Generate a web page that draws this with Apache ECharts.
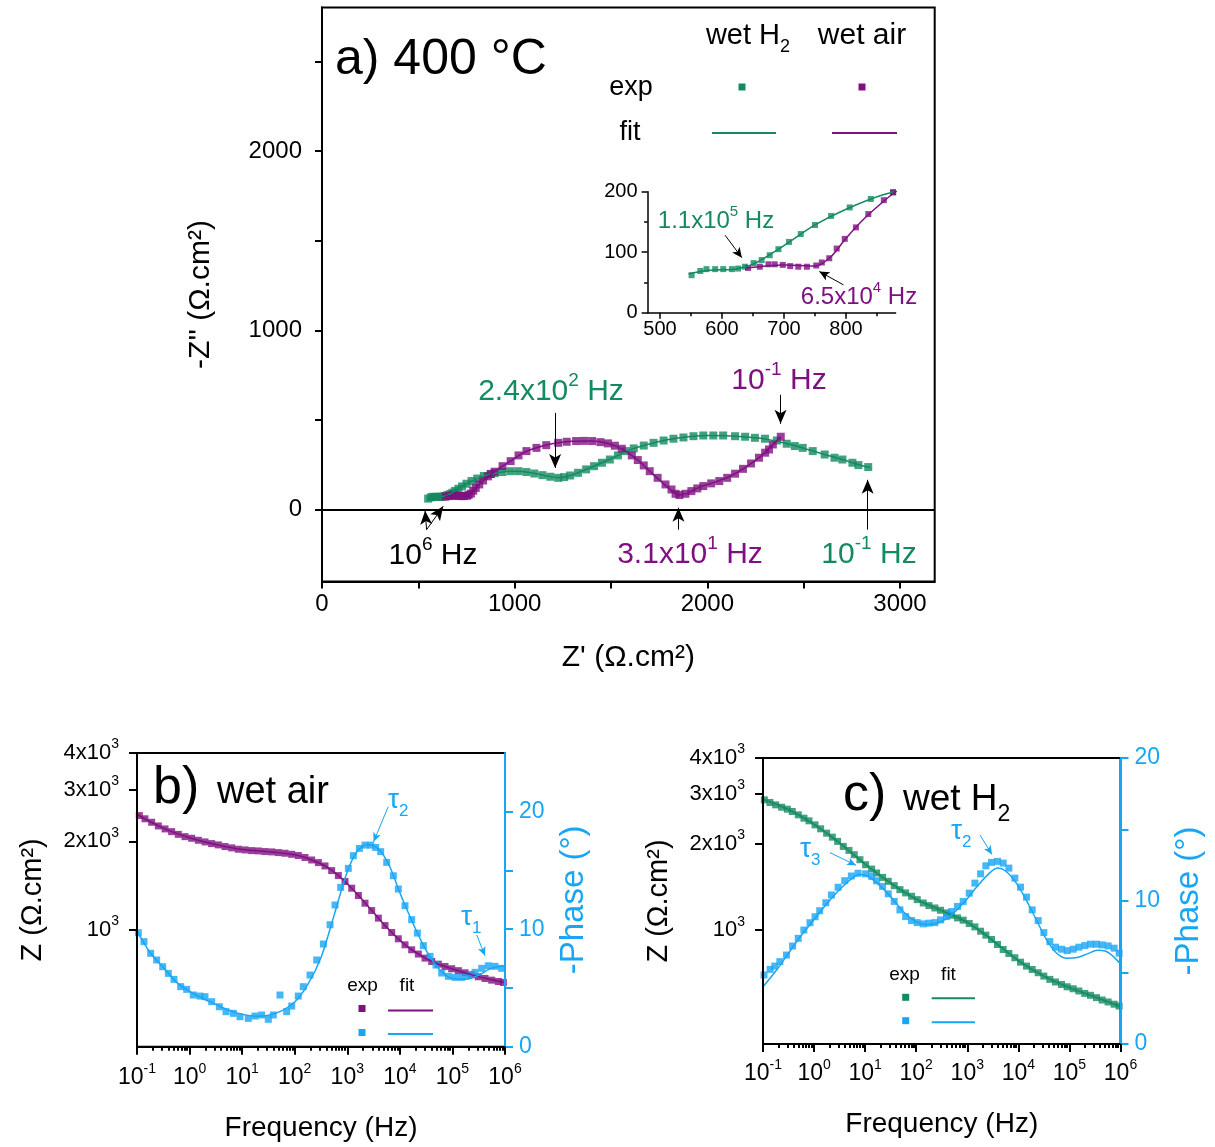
<!DOCTYPE html>
<html><head><meta charset="utf-8">
<script src="https://cdn.jsdelivr.net/npm/echarts@6/dist/echarts.min.js"></script>
<style>html,body{margin:0;padding:0;background:#fff}#c{width:1215px;height:1147px}</style>
</head><body><div id="c"></div>
<script>
const GREEN = '#138a5f';
const PURPLE = '#7f1081';
const BLUE = '#18a5f4';
const FF = "'Liberation Sans', Arial, sans-serif";

// ---------- a) Nyquist at 400 °C : [Z', -Z''] (Ω.cm²) ----------
const wetH2Exp = [[551,62],[565,69],[575,72],[589,72],[602,72],[616,72],[626,73],[637,76],[651,82],[664,87],[677,95],[691,105],[708,117],[727,130],[750,145],[776,160],[806,174],[840,188],[876,199],[896,204],[937,210],[979,215],[1020,215],[1061,210],[1102,202],[1144,193],[1185,184],[1226,178],[1257,182],[1288,191],[1329,206],[1371,225],[1412,243],[1453,262],[1494,280],[1536,303],[1577,327],[1618,342],[1670,358],[1721,373],[1773,386],[1824,396],[1876,403],[1928,410],[1979,414],[2031,414],[2082,414],[2144,410],[2196,407],[2247,401],[2299,396],[2361,386],[2412,368],[2454,355],[2495,345],[2547,327],[2609,308],[2660,290],[2701,280],[2753,262],[2784,249],[2835,238]];
const wetH2Fit = [[546,64],[580,70],[620,72],[650,80],[700,111],[750,145],[800,171],[860,195],[920,208],[980,215],[1040,213],[1100,203],[1160,190],[1215,180],[1260,183],[1320,203],[1400,238],[1500,284],[1600,335],[1700,367],[1800,392],[1900,407],[2000,414],[2100,413],[2200,406],[2300,395],[2400,372],[2500,343],[2600,311],[2700,280],[2800,247],[2845,235]];
const wetAirExp = [[642,74],[661,76],[675,80],[685,80],[698,79],[710,77],[723,76],[737,76],[752,78],[761,83],[773,90],[785,106],[798,122],[816,141],[836,163],[861,186],[876,199],[896,212],[937,243],[979,271],[1020,303],[1061,327],[1113,345],[1164,360],[1226,373],[1270,379],[1319,383],[1360,384],[1402,383],[1445,377],[1484,370],[1520,357],[1556,340],[1608,303],[1639,277],[1670,247],[1701,215],[1742,178],[1783,141],[1814,113],[1835,89],[1855,82],[1886,89],[1917,104],[1948,119],[1979,132],[2020,147],[2062,160],[2103,178],[2144,201],[2185,228],[2227,258],[2268,290],[2300,318],[2320,336],[2340,364],[2381,407]];
const wetAirFit = [[640,74],[700,79],[750,77],[775,92],[800,123],[830,156],[870,192],[920,232],[980,272],[1040,315],[1100,341],[1200,369],[1300,382],[1400,383],[1480,371],[1560,337],[1640,276],[1720,196],[1790,129],[1830,92],[1852,82],[1890,90],[1960,126],[2040,154],[2120,188],[2200,238],[2280,300],[2340,363],[2381,407]];
const nyqXTicks = [0,500,1000,1500,2000,2500,3000];
const nyqXLabels = [0,1000,2000,3000];
const nyqYTicks = [0,500,1000,1500,2000,2500];
const nyqYLabels = [0,1000,2000];
const insetXMajor = [500,600,700,800];
const insetXMinor = [550,650,750,850];
const insetYMajor = [0,100,200];
const insetYMinor = [50,150];

// ---------- b) wet air Bode : log10(f/Hz), |Z| (Ω.cm²), -phase (°) ----------
const airLogF = [-0.956,-0.848,-0.721,-0.594,-0.467,-0.341,-0.214,-0.087,0.040,0.167,0.294,0.420,0.547,0.674,0.801,0.928,1.055,1.181,1.308,1.435,1.562,1.689,1.815,1.942,2.069,2.196,2.323,2.450,2.576,2.703,2.830,2.957,3.084,3.211,3.337,3.464,3.591,3.718,3.845,3.971,4.098,4.225,4.352,4.479,4.606,4.732,4.859,4.986,5.113,5.240,5.367,5.493,5.620,5.747,5.874,5.969];
const airZExp = [2449,2388,2324,2258,2206,2159,2114,2076,2050,2018,1992,1966,1946,1921,1901,1881,1871,1861,1856,1847,1842,1832,1823,1808,1790,1763,1729,1694,1650,1591,1530,1460,1386,1309,1232,1163,1096,1034,979,932,889,855,827,801,780,764,750,737,726,714,703,692,683,674,667,662];
const airZFit = [[-1,2470],[-0.5,2220],[0,2058],[0.5,1953],[1,1878],[1.5,1845],[2,1800],[2.3,1735],[2.6,1640],[2.9,1492],[3.2,1316],[3.5,1145],[3.8,998],[4.1,889],[4.4,817],[4.7,768],[5,736],[5.3,709],[5.6,685],[6,660]];
const airPhaseExp = [[-0.975,9.70],[-0.867,8.94],[-0.74,7.95],[-0.626,7.38],[-0.511,6.81],[-0.404,6.24],[-0.296,5.73],[-0.169,5.11],[-0.055,4.88],[0.071,4.40],[0.198,4.31],[0.293,4.26],[0.421,3.83],[0.566,3.40],[0.693,2.98],[0.832,2.84],[0.959,2.55],[1.117,2.41],[1.245,2.61],[1.372,2.70],[1.498,2.33],[1.593,2.70],[1.720,4.40],[1.848,2.98],[1.943,3.46],[2.068,4.31],[2.163,5.11],[2.291,6.10],[2.418,7.38],[2.545,8.74],[2.672,10.38],[2.767,12.06],[2.874,13.56],[3.020,15.18],[3.115,16.26],[3.230,16.88],[3.337,17.16],[3.445,17.16],[3.540,16.96],[3.635,16.60],[3.750,15.69],[3.876,14.55],[3.971,13.42],[4.098,12.00],[4.225,10.81],[4.333,9.67],[4.447,8.60],[4.574,7.69],[4.688,6.95],[4.796,6.27],[4.923,5.99],[5.049,5.90],[5.176,5.90],[5.303,6.04],[5.430,6.33],[5.557,6.67],[5.684,6.89],[5.810,6.84],[5.937,6.67]];
const airPhaseFit = [[-1,9.85],[-0.75,8.0],[-0.5,6.75],[-0.25,5.5],[0,4.7],[0.25,4.1],[0.5,3.6],[0.75,3.1],[1,2.75],[1.25,2.6],[1.5,2.68],[1.75,3.05],[2,3.8],[2.25,5.3],[2.5,7.6],[2.75,11.2],[3,14.9],[3.2,16.7],[3.4,17.2],[3.6,16.8],[3.8,15.4],[4,13.1],[4.25,10.5],[4.5,8.2],[4.75,6.6],[5,5.8],[5.25,5.75],[5.5,6.1],[5.7,6.6],[5.85,6.8],[6,6.85]];

// ---------- c) wet H2 Bode ----------
const h2LogF = [-0.974,-0.863,-0.752,-0.635,-0.524,-0.426,-0.309,-0.198,-0.100,0.018,0.128,0.246,0.357,0.461,0.572,0.683,0.787,0.898,1.009,1.127,1.224,1.342,1.453,1.570,1.681,1.792,1.909,2.020,2.138,2.249,2.366,2.477,2.594,2.692,2.809,2.920,3.038,3.149,3.260,3.364,3.475,3.592,3.703,3.814,3.931,4.042,4.160,4.271,4.388,4.499,4.616,4.727,4.845,4.956,5.073,5.184,5.301,5.412,5.530,5.641,5.758,5.876,5.973];
const h2ZExp = [2855,2795,2743,2692,2649,2600,2531,2464,2412,2335,2262,2184,2115,2044,1963,1901,1836,1764,1694,1636,1585,1530,1482,1431,1386,1350,1314,1279,1245,1219,1196,1174,1149,1128,1104,1084,1055,1027,992,961,928,891,856,829,801,773,749,729,710,691,673,659,646,634,624,613,601,592,581,570,561,551,543];
const h2ZFit = [[-1,2870],[-0.5,2640],[0,2345],[0.5,2018],[1,1700],[1.5,1462],[2,1285],[2.5,1170],[3,1065],[3.5,920],[4,783],[4.5,691],[5,630],[5.5,584],[6,541]];
const h2PhaseExp = [[-0.98,4.83],[-0.86,5.22],[-0.77,5.45],[-0.67,5.76],[-0.54,6.22],[-0.42,6.85],[-0.31,7.39],[-0.20,7.97],[-0.08,8.48],[0.02,8.90],[0.11,9.32],[0.23,9.88],[0.34,10.42],[0.47,10.96],[0.60,11.42],[0.73,11.75],[0.86,11.94],[1.009,11.90],[1.127,11.72],[1.224,11.41],[1.342,11.02],[1.453,10.50],[1.570,9.97],[1.681,9.38],[1.792,8.91],[1.909,8.63],[2.020,8.49],[2.138,8.40],[2.249,8.45],[2.366,8.49],[2.477,8.68],[2.594,8.91],[2.692,9.26],[2.809,9.62],[2.920,9.97],[3.038,10.55],[3.149,11.25],[3.260,11.90],[3.364,12.46],[3.475,12.70],[3.592,12.77],[3.703,12.65],[3.814,12.30],[3.931,11.60],[4.042,10.97],[4.160,10.27],[4.271,9.38],[4.388,8.63],[4.499,7.79],[4.616,7.16],[4.727,6.77],[4.845,6.63],[4.956,6.53],[5.073,6.63],[5.184,6.77],[5.301,6.88],[5.412,6.98],[5.530,6.98],[5.641,6.93],[5.758,6.86],[5.876,6.70],[5.973,6.35]];
const h2PhaseFit = [[-1,4.0],[-0.75,5.1],[-0.5,6.35],[-0.25,7.6],[0,8.7],[0.25,9.8],[0.5,10.8],[0.75,11.6],[0.9,11.85],[1.05,11.75],[1.25,11.2],[1.5,10.3],[1.75,9.25],[2.0,8.55],[2.2,8.35],[2.45,8.5],[2.7,9.05],[2.95,9.95],[3.2,11.05],[3.45,12.0],[3.6,12.3],[3.75,12.1],[3.95,11.3],[4.15,10.1],[4.35,8.7],[4.55,7.3],[4.75,6.35],[4.95,6.0],[5.15,6.05],[5.35,6.3],[5.55,6.55],[5.7,6.5],[5.85,6.15],[6.0,5.6]];

const freqDecades = [-1,0,1,2,3,4,5,6];
const zTicks = [1000,2000,3000,4000];
const zTickMant = ['','2x','3x','4x'];
const phaseTicksB = [0,5,10,15,20];
const phaseTicksC = [0,5,10,15,20];
const phaseLabels = [0,10,20];

// ---------- helpers ----------
const lg = Math.log10;
const minorFreq = [];
freqDecades.slice(0, -1).forEach(d => { for (let k = 2; k <= 9; k++) minorFreq.push(d + lg(k)); });
const zTicksLog = zTicks.map(lg);

function supRich(size, color) {
  return {
    n: {fontSize: size, fontFamily: FF, color: color, lineHeight: Math.round(size * 1.4)},
    s: {fontSize: Math.round(size * 0.62), fontFamily: FF, color: color, lineHeight: Math.round(size * 0.62), verticalAlign: 'top'},
    u: {fontSize: Math.round(size * 0.62), fontFamily: FF, color: color, lineHeight: Math.round(size * 0.62), verticalAlign: 'bottom'}
  };
}
const plainFmt = v => String(Math.round(v));
function baseAxis(o) {
  const a = {
    type: 'value', splitLine: {show: false}, min: o.min, max: o.max, gridIndex: o.grid,
    position: o.position,
    axisLine: {show: o.line !== false, onZero: false, lineStyle: {color: o.color || '#000', width: o.lw || 2}},
    axisTick: {show: true, inside: false, length: o.tickLen || 7, customValues: o.ticks, lineStyle: {color: o.color || '#000', width: o.lw || 2}},
    axisLabel: o.labels ? {show: true, customValues: o.labels, margin: o.margin || 10, fontSize: o.fs || 22, fontFamily: FF, color: o.color || '#000', formatter: o.fmt || plainFmt, rich: o.rich} : {show: false},
    z: 5
  };
  if (o.name) {
    a.name = o.name; a.nameLocation = 'middle'; a.nameGap = o.nameGap;
    a.nameTextStyle = {fontSize: o.nameSize || 27, fontFamily: FF, color: o.color || '#000'};
    if (o.nameRotate != null) a.nameRotate = o.nameRotate;
  }
  return a;
}
function arrowLines(pairs, color, size) {
  return {
    silent: true, animation: false, symbol: ['none', 'arrow'], symbolSize: size,
    label: {show: false}, lineStyle: {color: color, width: 1, type: 'solid'},
    data: pairs.map(p => [{coord: p[0]}, {coord: p[1]}])
  };
}
function txt(x, y, text, size, color, align, rich) {
  return {type: 'text', x: x, y: y, z: 50, silent: true,
    style: {text: text, fill: color, fontSize: size, fontFamily: FF, align: align || 'left', verticalAlign: 'middle', rich: rich}};
}
function rect(cx, cy, s, color) {
  return {type: 'rect', silent: true, z: 50, shape: {x: cx - s / 2, y: cy - s / 2, width: s, height: s}, style: {fill: color}};
}
function hline(x1, x2, y, color) {
  return {type: 'line', silent: true, z: 50, shape: {x1: x1, y1: y, x2: x2, y2: y}, style: {stroke: color, lineWidth: 2}};
}
const decFmt = v => '{n|10}{s|' + Math.round(v) + '}';
const zFmt = v => { const i = zTicks.indexOf(Math.round(Math.pow(10, v) / 1000) * 1000); return '{n|' + zTickMant[i] + '10}{s|3}'; };

// ---------- axes ----------
const xAxes = [
  baseAxis({grid: 0, position: 'bottom', min: 0, max: 3180, ticks: nyqXTicks, labels: nyqXLabels, fs: 24, margin: 11, name: "Z' (Ω.cm²)", nameGap: 61, nameSize: 30}),
  baseAxis({grid: 1, position: 'bottom', min: 480, max: 880, ticks: insetXMajor, labels: insetXMajor, fs: 20, margin: 7, tickLen: 6, lw: 1.5}),
  baseAxis({grid: 1, position: 'bottom', min: 480, max: 880, ticks: insetXMinor, tickLen: 3.5, lw: 1.5, line: false}),
  baseAxis({grid: 2, position: 'bottom', min: -1, max: 6, ticks: freqDecades, labels: freqDecades, fmt: decFmt, rich: supRich(23, '#000'), margin: 15, tickLen: 8, name: 'Frequency (Hz)', nameGap: 68, nameSize: 28}),
  baseAxis({grid: 2, position: 'bottom', min: -1, max: 6, ticks: minorFreq, tickLen: 4, line: false}),
  baseAxis({grid: 3, position: 'bottom', min: -1, max: 6, ticks: freqDecades, labels: freqDecades, fmt: decFmt, rich: supRich(23, '#000'), margin: 14, tickLen: 8, name: 'Frequency (Hz)', nameGap: 66, nameSize: 28}),
  baseAxis({grid: 3, position: 'bottom', min: -1, max: 6, ticks: minorFreq, tickLen: 4, line: false})
];
const yAxes = [
  baseAxis({grid: 0, position: 'left', min: -400, max: 2800, ticks: nyqYTicks, labels: nyqYLabels, fs: 24, margin: 20, name: "-Z'' (Ω.cm²)", nameGap: 106, nameSize: 30, nameRotate: 90}),
  baseAxis({grid: 1, position: 'left', min: 0, max: 200, ticks: insetYMajor, labels: insetYMajor, fs: 20, margin: 10, tickLen: 6, lw: 1.5}),
  baseAxis({grid: 1, position: 'left', min: 0, max: 200, ticks: insetYMinor, tickLen: 3.5, lw: 1.5, line: false}),
  baseAxis({grid: 2, min: lg(400), max: lg(4000), position: 'left', ticks: zTicksLog, labels: zTicksLog, fmt: zFmt, rich: supRich(22, '#000'), margin: 18, tickLen: 8, name: 'Z (Ω.cm²)', nameGap: 90, nameSize: 29, nameRotate: 90}),
  baseAxis({grid: 2, min: 0, max: 25, position: 'right', ticks: phaseTicksB, labels: phaseLabels, fs: 23, margin: 14, tickLen: 8, color: BLUE, name: '-Phase (°)', nameGap: 52, nameSize: 33, nameRotate: 90}),
  baseAxis({grid: 3, min: lg(400), max: lg(4000), position: 'left', ticks: zTicksLog, labels: zTicksLog, fmt: zFmt, rich: supRich(22, '#000'), margin: 18, tickLen: 8, name: 'Z (Ω.cm²)', nameGap: 90, nameSize: 29, nameRotate: 90}),
  baseAxis({grid: 3, min: 0, max: 20, position: 'right', ticks: phaseTicksC, labels: phaseLabels, fs: 23, margin: 14, tickLen: 8, color: BLUE, name: '-Phase (°)', nameGap: 52, nameSize: 33, nameRotate: 90})
];

function scat(name, data, xi, yi, color, size, extra) {
  return Object.assign({type: 'scatter', name: name, data: data, xAxisIndex: xi, yAxisIndex: yi, symbol: 'rect', symbolSize: size, itemStyle: {color: color}, clip: true, z: 3, animation: false}, extra || {});
}
function fit(name, data, xi, yi, color) {
  return {type: 'line', name: name, data: data, xAxisIndex: xi, yAxisIndex: yi, smooth: 0.35, symbol: 'none', showSymbol: false, clip: true, lineStyle: {color: color, width: 1.5}, itemStyle: {color: color}, z: 4, animation: false};
}
const toLogZ = (f, z) => [f, lg(z)];

const series = [
  scat('wet H2 exp', wetH2Exp, 0, 0, GREEN, 8, {markLine: {
    silent: true, animation: false, symbol: ['none', 'none'], label: {show: false},
    lineStyle: {color: '#000', width: 2, type: 'solid'}, data: [{yAxis: 0}]}}),
  fit('wet H2 fit', wetH2Fit, 0, 0, GREEN),
  scat('wet air exp', wetAirExp, 0, 0, PURPLE, 8, {markLine: arrowLines([
    [[1210, 540], [1210, 233]],
    [[2380, 641], [2380, 479]],
    [[1850, -111], [1850, 11]],
    [[2832, -111], [2832, 167]],
    [[543, -111], [535, -5]],
    [[543, -111], [629, 19]]
  ], '#000', [9, 14])}),
  fit('wet air fit', wetAirFit, 0, 0, PURPLE),
  scat('wet H2 exp', wetH2Exp, 1, 1, GREEN, 6, {markLine: arrowLines([
    [[605, 128], [632, 91]],
    [[796, 46], [757, 68]]
  ], '#000', [7, 10])}),
  fit('wet H2 fit', wetH2Fit, 1, 1, GREEN),
  scat('wet air exp', wetAirExp, 1, 1, PURPLE, 6),
  fit('wet air fit', wetAirFit, 1, 1, PURPLE),
  // b)
  scat('b Z exp', airLogF.map((f, i) => toLogZ(f, airZExp[i])), 3, 3, PURPLE, 7),
  fit('b Z fit', airZFit.map(p => toLogZ(p[0], p[1])), 3, 3, PURPLE),
  scat('b phase exp', airPhaseExp, 3, 4, BLUE, 7, {markLine: arrowLines([
    [[3.779, 20.43], [3.5, 17.45]],
    [[5.462, 9.51], [5.62, 7.74]]
  ], BLUE, [6, 9])}),
  fit('b phase fit', airPhaseFit, 3, 4, BLUE),
  // c)
  scat('c Z exp', h2LogF.map((f, i) => toLogZ(f, h2ZExp[i])), 5, 5, GREEN, 7),
  fit('c Z fit', h2ZFit.map(p => toLogZ(p[0], p[1])), 5, 5, GREEN),
  scat('c phase exp', h2PhaseExp, 5, 6, BLUE, 7, {markLine: arrowLines([
    [[0.312, 13.38], [0.821, 12.50]],
    [[3.249, 14.62], [3.484, 13.25]]
  ], BLUE, [6, 9])}),
  fit('c phase fit', h2PhaseFit, 5, 6, BLUE)
];

function rc(size, color) { return supRich(size, color); }

const graphics = [
  // a) titles and legend
  txt(335, 60, 'a) 400 °C', 50, '#000'),
  txt(748, 36, '{n|wet H}{u|2}', 29, '#000', 'center', rc(29, '#000')),
  txt(862, 36, 'wet air', 30, '#000', 'center'),
  txt(631, 88, 'exp', 27, '#000', 'center'),
  txt(630, 133, 'fit', 27, '#000', 'center'),
  rect(742, 87, 7, GREEN), rect(862, 87, 7, PURPLE),
  hline(712, 776, 133, GREEN), hline(832, 897, 133, PURPLE),
  // a) annotations
  txt(551, 392, '{n|2.4x10}{s|2}{n| Hz}', 30, GREEN, 'center', rc(30, GREEN)),
  txt(779, 381, '{n|10}{s|-1}{n| Hz}', 30, PURPLE, 'center', rc(30, PURPLE)),
  txt(433, 556, '{n|10}{s|6}{n| Hz}', 30, '#000', 'center', rc(30, '#000')),
  txt(690, 555, '{n|3.1x10}{s|1}{n| Hz}', 30, PURPLE, 'center', rc(30, PURPLE)),
  txt(869, 555, '{n|10}{s|-1}{n| Hz}', 30, GREEN, 'center', rc(30, GREEN)),
  txt(716, 221, '{n|1.1x10}{s|5}{n| Hz}', 24, GREEN, 'center', rc(24, GREEN)),
  txt(859, 297, '{n|6.5x10}{s|4}{n| Hz}', 24, PURPLE, 'center', rc(24, PURPLE)),
  // b)
  txt(153, 789, 'b)', 52, '#000'),
  txt(217, 793, 'wet air', 38, '#000'),
  txt(388, 800, '{n|τ}{u|2}', 28, BLUE, 'left', rc(28, BLUE)),
  txt(461, 917, '{n|τ}{u|1}', 28, BLUE, 'left', rc(28, BLUE)),
  txt(362.5, 986, 'exp', 19, '#000', 'center'),
  txt(407, 986, 'fit', 19, '#000', 'center'),
  rect(362, 1008.5, 7, PURPLE), rect(362, 1032.5, 7, BLUE),
  hline(388, 433, 1010.5, PURPLE), hline(388, 433, 1034, BLUE),
  // c)
  txt(843, 796, 'c)', 52, '#000'),
  txt(903, 800, '{n|wet H}{u|2}', 37, '#000', 'left', rc(37, '#000')),
  txt(800, 849, '{n|τ}{u|3}', 28, BLUE, 'left', rc(28, BLUE)),
  txt(951, 831, '{n|τ}{u|2}', 28, BLUE, 'left', rc(28, BLUE)),
  txt(904.5, 974.5, 'exp', 19, '#000', 'center'),
  txt(948.5, 975, 'fit', 19, '#000', 'center'),
  rect(905.7, 997.3, 7, GREEN), rect(905.7, 1020.7, 7, BLUE),
  hline(931.7, 975, 998.3, GREEN), hline(931.7, 975, 1022.3, BLUE)
];

const chart = echarts.init(document.getElementById('c'), null, {renderer: 'canvas'});
chart.setOption({
  backgroundColor: '#fff',
  animation: false,
  textStyle: {fontFamily: FF},
  grid: [
    {left: 322, top: 7.5, width: 612.7, height: 574, show: true, borderColor: '#000', borderWidth: 2, backgroundColor: 'transparent'},
    {left: 647.6, top: 191.7, width: 248, height: 121},
    {left: 137, top: 753, width: 368, height: 293.7, show: true, borderColor: '#000', borderWidth: 2, backgroundColor: 'transparent'},
    {left: 763, top: 758, width: 357.5, height: 286, show: true, borderColor: '#000', borderWidth: 2, backgroundColor: 'transparent'}
  ],
  xAxis: xAxes,
  yAxis: yAxes,
  series: series,
  graphic: graphics
});
</script>
</body></html>
